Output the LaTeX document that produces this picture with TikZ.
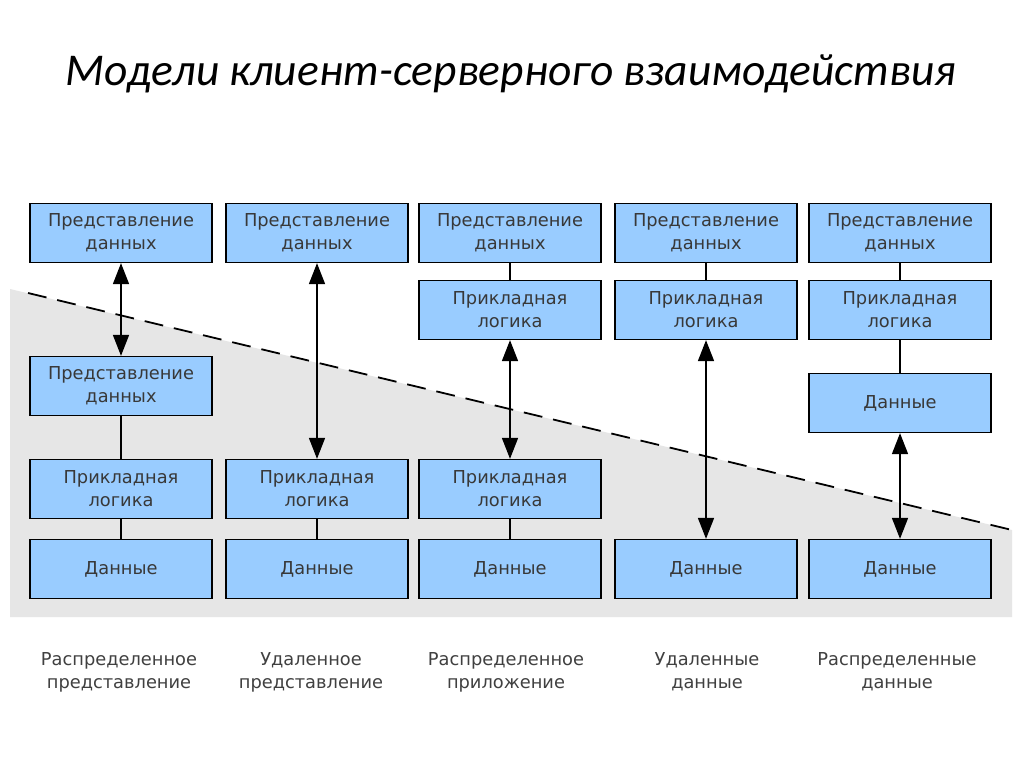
\documentclass[tikz,border=0pt]{standalone}
\usepackage{fontspec}
\setmainfont{DejaVu Sans}
\newfontfamily\titlefont{Carlito}
\usetikzlibrary{arrows.meta}
\definecolor{boxblue}{HTML}{99CCFF}
\definecolor{greyarea}{HTML}{E6E6E6}
\definecolor{boxtext}{HTML}{383838}
\definecolor{labtext}{HTML}{404040}
\tikzset{
  blk/.style={draw=black, line width=1.3pt, fill=boxblue, minimum width=182pt, minimum height=59pt, inner sep=0pt, align=center, font=\fontsize{17.8}{23}\selectfont, text=boxtext},
  lnk/.style={line width=1.3pt, draw=black},
  dlnk/.style={line width=1.6pt, draw=black, {Triangle[width=16pt,length=21pt]}-{Triangle[width=16pt,length=21pt]}},
  lab/.style={align=center, font=\fontsize{17.8}{23}\selectfont, text=labtext},
}
\begin{document}
\begin{tikzpicture}[x=1pt,y=-1pt]
\useasboundingbox (0,0) rectangle (1024,767);
\fill[white] (0,0) rectangle (1024,767);
\fill[greyarea] (10,289) -- (1012,530) -- (1012,617) -- (10,617) -- cycle;
\draw[dash pattern=on 19pt off 11pt, line width=1.8pt] (28,293) -- (1012,530);
\node[font=\titlefont\itshape\fontsize{45.5}{50}\selectfont, anchor=base] (title) at (511,86) {Модели клиент-серверного взаимодействия};
% column 1
\node[blk] (p1) at (121,233) {Представление\\данных};
\node[blk] (p1b) at (121,386) {Представление\\данных};
\node[blk] (l1) at (121,489) {Прикладная\\логика};
\node[blk] (d1) at (121,569) {Данные};
% column 2
\node[blk] (p2) at (317,233) {Представление\\данных};
\node[blk] (l2) at (317,489) {Прикладная\\логика};
\node[blk] (d2) at (317,569) {Данные};
% column 3
\node[blk] (p3) at (510,233) {Представление\\данных};
\node[blk] (l3) at (510,310) {Прикладная\\логика};
\node[blk] (l3b) at (510,489) {Прикладная\\логика};
\node[blk] (d3) at (510,569) {Данные};
% column 4
\node[blk] (p4) at (706,233) {Представление\\данных};
\node[blk] (l4) at (706,310) {Прикладная\\логика};
\node[blk] (d4) at (706,569) {Данные};
% column 5
\node[blk] (p5) at (900,233) {Представление\\данных};
\node[blk] (l5) at (900,310) {Прикладная\\логика};
\node[blk] (d5a) at (900,403) {Данные};
\node[blk] (d5) at (900,569) {Данные};
% links
\draw[dlnk] (p1.south) -- (p1b.north);
\draw[lnk] (p1b.south) -- (l1.north);
\draw[lnk] (l1.south) -- (d1.north);
\draw[dlnk] (p2.south) -- (l2.north);
\draw[lnk] (l2.south) -- (d2.north);
\draw[lnk] (p3.south) -- (l3.north);
\draw[dlnk] (l3.south) -- (l3b.north);
\draw[lnk] (l3b.south) -- (d3.north);
\draw[lnk] (p4.south) -- (l4.north);
\draw[dlnk] (l4.south) -- (d4.north);
\draw[lnk] (p5.south) -- (l5.north);
\draw[lnk] (l5.south) -- (d5a.north);
\draw[dlnk] (d5a.south) -- (d5.north);
% labels
\node[lab] (t1) at (119,672) {Распределенное\\представление};
\node[lab] (t2) at (311,672) {Удаленное\\представление};
\node[lab] (t3) at (506,672) {Распределенное\\приложение};
\node[lab] (t4) at (707,672) {Удаленные\\данные};
\node[lab] (t5) at (897,672) {Распределенные\\данные};
\end{tikzpicture}
\end{document}
